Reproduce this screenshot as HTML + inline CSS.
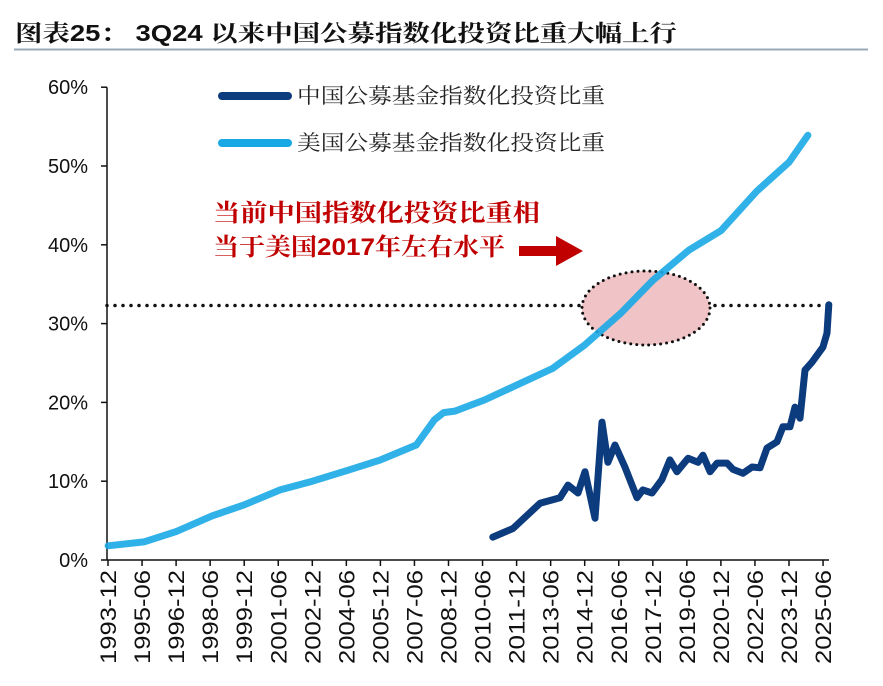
<!DOCTYPE html>
<html><head><meta charset="utf-8"><style>
body{margin:0;background:#fff;width:883px;height:681px;overflow:hidden}
svg text{font-family:"Liberation Sans","Noto Sans CJK SC",sans-serif}
</style></head><body>
<svg width="883" height="681">
<text x="15" y="41" font-size="23" font-weight="bold" fill="#111" textLength="662" lengthAdjust="spacingAndGlyphs" style="font-family:'Liberation Sans','Noto Serif CJK SC',serif">图表25： 3Q24 以来中国公募指数化投资比重大幅上行</text>
<line x1="14" y1="49.5" x2="868" y2="49.5" stroke="#99a8b8" stroke-width="2"/>
<g id="axes"></g>
<ellipse cx="646" cy="308" rx="64" ry="37" fill="#f0c4c6" stroke="#111" stroke-width="3" stroke-dasharray="0 6" stroke-linecap="round"/>
<g id="series"></g>
<g>
<line x1="222" y1="96" x2="288" y2="96" stroke="#0c3b7e" stroke-width="8" stroke-linecap="round"/>
<text x="297" y="103" font-size="21" fill="#222" textLength="308" lengthAdjust="spacingAndGlyphs" style="font-family:'Noto Serif CJK SC',serif">中国公募基金指数化投资比重</text>
<line x1="222" y1="143" x2="288" y2="143" stroke="#19a8e6" stroke-width="8" stroke-linecap="round"/>
<text x="297" y="150" font-size="21" fill="#222" textLength="308" lengthAdjust="spacingAndGlyphs" style="font-family:'Noto Serif CJK SC',serif">美国公募基金指数化投资比重</text>
</g>
<text x="213" y="221" font-size="24" font-weight="bold" fill="#c00000" textLength="327" lengthAdjust="spacingAndGlyphs" style="font-family:'Liberation Sans','Noto Serif CJK SC',serif">当前中国指数化投资比重相</text>
<text x="213" y="255" font-size="24" font-weight="bold" fill="#c00000" textLength="292" lengthAdjust="spacingAndGlyphs" style="font-family:'Liberation Sans','Noto Serif CJK SC',serif">当于美国2017年左右水平</text>
<polygon points="519,246 556,246 556,236 583,251 556,266 556,256 519,256" fill="#c00000"/>
</svg>
<script>
const yTicks=[0,10,20,30,40,50,60];
const xTickLabels=["1993-12","1995-06","1996-12","1998-06","1999-12","2001-06","2002-12","2004-06","2005-12","2007-06","2008-12","2010-06","2011-12","2013-06","2014-12","2016-06","2017-12","2019-06","2020-12","2022-06","2023-12","2025-06"];
const usDates=[1993.92,1995.5,1996.92,1998.5,1999.92,2001.5,2002.92,2004.5,2005.92,2007.5,2008.3,2008.7,2009.2,2010.5,2011.92,2013.5,2014.92,2016.5,2017.92,2019.5,2020.92,2022.5,2023.92,2024.75];
const usValues=[1.8,2.3,3.6,5.6,7.0,8.9,10.0,11.4,12.7,14.6,17.8,18.7,18.9,20.3,22.2,24.3,27.3,31.3,35.5,39.3,41.8,46.8,50.5,53.9];
const cnDates=[2010.87,2011.76,2012.95,2013.83,2014.18,2014.62,2014.93,2015.37,2015.68,2015.94,2016.25,2016.69,2017.22,2017.48,2017.88,2018.32,2018.67,2018.98,2019.47,2019.91,2020.13,2020.44,2020.75,2021.19,2021.45,2021.89,2022.29,2022.64,2022.95,2023.39,2023.65,2023.96,2024.18,2024.40,2024.62,2024.93,2025.41,2025.59,2025.67];
const cnValues=[2.9,4.0,7.2,7.9,9.5,8.5,11.2,5.3,17.5,12.4,14.6,11.8,7.9,8.9,8.5,10.2,12.7,11.2,12.9,12.4,13.3,11.2,12.3,12.3,11.5,11.0,11.8,11.7,14.2,15.0,16.9,16.9,19.4,18.0,24.1,25.1,27.0,28.8,32.4];
const refLevel=32.3;
const NS="http://www.w3.org/2000/svg";
const X0=108,XSTEP=34.05,T0=1993.917;
function xs(t){return X0+(t-T0)/1.5*XSTEP;}
function ys(v){return 560-v*7.88;}
function mk(tag,attrs,parent){const e=document.createElementNS(NS,tag);for(const k in attrs)e.setAttribute(k,attrs[k]);parent.appendChild(e);return e;}
const ax=document.getElementById('axes');
let yl=mk('line',{x1:107,y1:ys(60),x2:107,y2:560,stroke:'#111','stroke-width':1.5},ax);


yTicks.forEach(v=>{
 const t=mk('line',{x1:101,y1:ys(v),x2:107,y2:ys(v),stroke:'#111','stroke-width':1.5},ax);
 
 
 const l=mk('text',{x:88,y:ys(v)+7,'font-size':20,'text-anchor':'end',fill:'#111'},ax);
 l.textContent=v+'%';
 
 
});
let xl=mk('line',{x1:107,y1:560,x2:829,y2:560,stroke:'#111','stroke-width':1.5},ax);


xTickLabels.forEach((s,i)=>{
 const x=X0+i*XSTEP;
 const t=mk('line',{x1:x,y1:560,x2:x,y2:566,stroke:'#111','stroke-width':1.5},ax);
 
 
 const l=mk('text',{x:0,y:0,'font-size':22,'text-anchor':'end',fill:'#111',textLength:94,lengthAdjust:'spacingAndGlyphs',transform:`translate(${x+8},570) rotate(-90)`},ax);
 l.textContent=s;
 
 
});
const sg=document.getElementById('series');
let ref=mk('line',{x1:107,y1:ys(refLevel),x2:829,y2:ys(refLevel),stroke:'#111','stroke-width':3.5,'stroke-dasharray':'0 8','stroke-linecap':'round'},ax);


function path(d,v){return d.map((t,i)=>(i?'L':'M')+xs(t).toFixed(1)+','+ys(v[i]).toFixed(1)).join('');}
let us=mk('path',{d:path(usDates,usValues),fill:'none',stroke:'#19a8e6','stroke-width':7,'stroke-linecap':'round','stroke-linejoin':'round','stroke-opacity':0.9},sg);


let cn=mk('path',{d:path(cnDates,cnValues),fill:'none',stroke:'#0c3b7e','stroke-width':7,'stroke-linecap':'round','stroke-linejoin':'round'},sg);


</script>
</body></html>
